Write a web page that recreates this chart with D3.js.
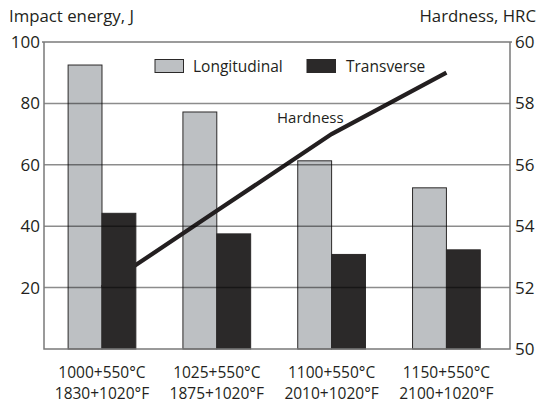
<!DOCTYPE html>
<html><head><meta charset="utf-8">
<script src="https://cdn.jsdelivr.net/npm/d3@7"></script>
<style>
html,body{margin:0;padding:0;background:#fff;}
svg{display:block;font-family:"Open Sans",sans-serif;}
</style></head>
<body><svg id="chart" width="538" height="405"></svg>
<script>
const categoriesC = ["1000+550°C","1025+550°C","1100+550°C","1150+550°C"];
const categoriesF = ["1830+1020°F","1875+1020°F","2010+1020°F","2100+1020°F"];
const seriesNames = ["Longitudinal","Transverse"];
const longitudinal = [92.5, 77.2, 61.3, 52.5];
const transverse = [44.2, 37.5, 30.8, 32.3];
const hardness = [52.0, 54.5, 57.0, 59.0];
const leftTicks = [20, 40, 60, 80, 100];
const rightTicks = [50, 52, 54, 56, 58, 60];

const svg = d3.select("#chart");
const L = 44, R = 510, T = 42, B = 349;
const colors = {Longitudinal:"#bdc0c3", Transverse:"#2b2929"};

const x0 = d3.scaleBand().domain(d3.range(categoriesC.length)).range([L, 504.4]).paddingInner(0.41).paddingOuter(0.21);
const x1 = d3.scaleBand().domain(seriesNames).range([0, x0.bandwidth()]);
const yL = d3.scaleLinear().domain([0, 100]).range([B, T]);
const yR = d3.scaleLinear().domain([50, 60]).range([B, T]);

const data = categoriesC.map((c, i) => ({i, Longitudinal: longitudinal[i], Transverse: transverse[i]}));

function drawBars(name) {
  svg.append("g").selectAll("rect").data(data).join("rect")
    .attr("x", d => x0(d.i) + x1(name))
    .attr("y", d => yL(d[name]))
    .attr("width", x1.bandwidth())
    .attr("height", d => B - yL(d[name]))
    .attr("fill", colors[name])
    .attr("stroke", "#2b2929").attr("stroke-width", 1);
}
drawBars("Longitudinal");

// hardness line (behind transverse bars)
const line = d3.line().x((d, i) => x0(i) + x0.bandwidth() / 2).y(d => yR(d));
svg.append("path").datum(hardness).attr("d", line)
  .attr("fill", "none").attr("stroke", "#231f20").attr("stroke-width", 4.2);

drawBars("Transverse");

// gridlines
svg.append("g").selectAll("line").data(leftTicks.filter(t => t < 100)).join("line")
  .attr("x1", L).attr("x2", R).attr("y1", d => yL(d)).attr("y2", d => yL(d))
  .attr("stroke", "rgba(0,0,0,0.45)").attr("stroke-width", 1.5);

// frame
const frame = svg.append("g").attr("stroke", "#7a7a7a").attr("stroke-width", 1.5).attr("fill", "none");
frame.append("path").attr("d", `M${L-2},${T}H${R+2}`);
frame.append("path").attr("d", `M${L},${T}V${B}H${R}V${T}`);

// left axis labels
const axL = svg.append("g").attr("transform", `translate(${L},0)`)
  .call(d3.axisLeft(yL).tickValues(leftTicks).tickSize(0).tickPadding(4));
axL.select(".domain").remove();
axL.selectAll("text").attr("font-size", 17).attr("fill", "#231f20").attr("font-family", "Open Sans");

const axR = svg.append("g").attr("transform", `translate(${R},0)`)
  .call(d3.axisRight(yR).tickValues(rightTicks).tickSize(0).tickPadding(5));
axR.select(".domain").remove();
axR.selectAll("text").attr("font-size", 17).attr("fill", "#231f20").attr("font-family", "Open Sans");

// category labels
const catG = svg.append("g").attr("font-size", 15.5).attr("fill", "#231f20").attr("text-anchor", "middle");
catG.selectAll("text.c").data(categoriesC).join("text").attr("class", "c")
  .attr("x", (d, i) => x0(i) + x0.bandwidth() / 2).attr("y", 377.5).text(d => d);
catG.selectAll("text.f").data(categoriesF).join("text").attr("class", "f")
  .attr("x", (d, i) => x0(i) + x0.bandwidth() / 2).attr("y", 398.5).text(d => d);

// titles
svg.append("text").attr("x", 9).attr("y", 22).attr("font-size", 16.8).attr("fill", "#231f20").text("Impact energy, J");
svg.append("text").attr("x", 536).attr("y", 22).attr("text-anchor", "end").attr("font-size", 16.8).attr("fill", "#231f20").text("Hardness, HRC");

// legend
const leg = [{name:"Longitudinal", bx:155, tx:193}, {name:"Transverse", bx:307, tx:346}];
const lg = svg.append("g");
lg.selectAll("rect").data(leg).join("rect")
  .attr("x", d => d.bx).attr("y", 59.5).attr("width", 28.5).attr("height", 13)
  .attr("fill", d => colors[d.name]).attr("stroke", "#2b2929").attr("stroke-width", 1);
lg.selectAll("text").data(leg).join("text")
  .attr("x", d => d.tx).attr("y", 71.5).attr("font-size", 15.5).attr("fill", "#231f20").text(d => d.name);

// line label
svg.append("text").attr("x", 277).attr("y", 123).attr("font-size", 15).attr("fill", "#231f20").text("Hardness");
</script>
</body></html>
